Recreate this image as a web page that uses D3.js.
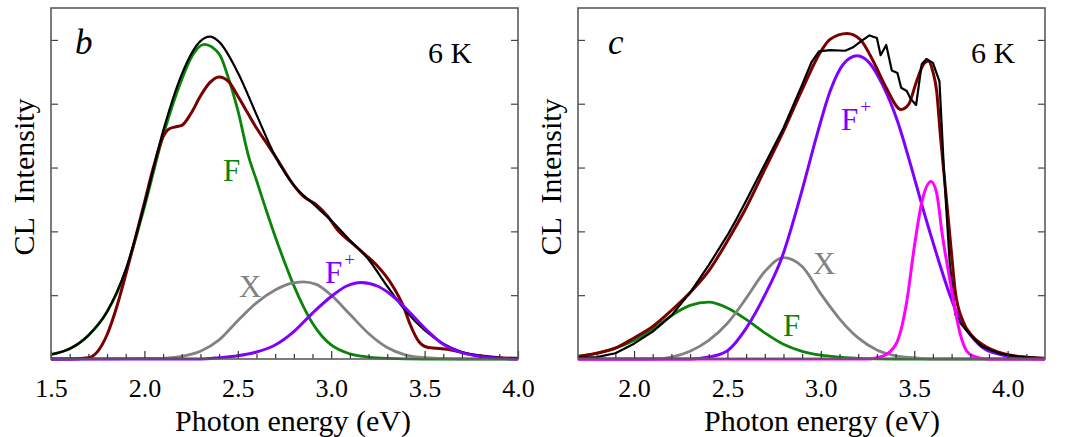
<!DOCTYPE html>
<html>
<head>
<meta charset="utf-8">
<script src="https://cdn.jsdelivr.net/npm/d3@7"></script>
<style>
  html, body { margin: 0; padding: 0; background: #fff; }
  svg { display: block; font-family: "Liberation Serif", "Times New Roman", serif; }
</style>
</head>
<body>
<svg id="chart" width="1075" height="437"></svg>
<script>
// ---- Panel b : spectrum at 6 K, [photon energy (eV), intensity] ----
const bFitSum = [[1.5,0.07],[1.6,0.16],[1.7,0.37],[1.8,0.74],[1.9,1.4],[2.0,2.42],[2.1,3.57],[2.2,4.46],[2.3,4.98],[2.35,5.05],[2.4,4.97],[2.5,4.49],[2.6,3.83],[2.7,3.18],[2.8,2.72],[2.9,2.44],[3.0,2.17],[3.1,1.86],[3.2,1.56],[3.3,1.14],[3.4,0.75],[3.5,0.45],[3.6,0.24],[3.7,0.11],[3.8,0.05],[3.9,0.02],[4.0,0.01]];
const bMeasured = [[1.5,0.0],[1.6,0.0],[1.7,0.02],[1.75,0.12],[1.8,0.38],[1.85,0.8],[1.9,1.32],[1.95,1.88],[2.0,2.45],[2.05,3.02],[2.1,3.48],[2.13,3.6],[2.17,3.64],[2.2,3.66],[2.25,3.85],[2.3,4.12],[2.35,4.33],[2.4,4.42],[2.45,4.35],[2.5,4.12],[2.55,3.87],[2.6,3.62],[2.65,3.4],[2.7,3.18],[2.8,2.72],[2.85,2.55],[2.92,2.42],[2.98,2.24],[3.04,2.0],[3.11,1.82],[3.18,1.64],[3.24,1.48],[3.33,1.14],[3.39,0.8],[3.42,0.56],[3.47,0.27],[3.52,0.18],[3.63,0.15],[3.75,0.07],[3.9,0.02],[4.0,0.01]];
const bBandF = [[1.5,0.07],[1.6,0.16],[1.7,0.37],[1.8,0.74],[1.9,1.38],[2.0,2.38],[2.1,3.5],[2.2,4.38],[2.25,4.72],[2.32,4.93],[2.4,4.78],[2.45,4.4],[2.5,3.9],[2.56,3.15],[2.6,2.8],[2.65,2.35],[2.7,1.92],[2.75,1.52],[2.8,1.15],[2.85,0.83],[2.9,0.56],[2.95,0.36],[3.0,0.22],[3.1,0.08],[3.2,0.03],[3.3,0.01],[3.5,0.0],[4.0,0.0]];
const bBandX = [[1.5,0.0],[2.1,0.01],[2.2,0.04],[2.3,0.12],[2.4,0.3],[2.5,0.6],[2.6,0.88],[2.7,1.08],[2.78,1.18],[2.85,1.21],[2.92,1.17],[3.0,1.0],[3.1,0.7],[3.2,0.4],[3.3,0.18],[3.4,0.06],[3.5,0.02],[3.7,0.0],[4.0,0.0]];
const bBandFplus = [[1.5,0.0],[2.3,0.0],[2.4,0.02],[2.5,0.05],[2.6,0.11],[2.7,0.22],[2.8,0.43],[2.9,0.72],[3.0,0.98],[3.08,1.14],[3.16,1.2],[3.25,1.14],[3.34,0.96],[3.43,0.7],[3.52,0.43],[3.6,0.23],[3.7,0.1],[3.8,0.04],[3.9,0.01],[4.0,0.0]];

// ---- Panel c : spectrum at 6 K ----
const cMeasured = [[1.7,0.02],[1.8,0.03],[1.9,0.09],[2.0,0.24],[2.1,0.43],[2.2,0.68],[2.3,1.04],[2.4,1.47],[2.5,1.94],[2.55,2.2],[2.6,2.48],[2.7,3.05],[2.8,3.62],[2.9,4.3],[2.95,4.65],[2.99,4.82],[3.05,4.84],[3.13,4.83],[3.17,4.88],[3.22,4.99],[3.26,5.07],[3.3,5.03],[3.32,4.76],[3.35,4.92],[3.38,4.52],[3.41,4.48],[3.43,4.25],[3.46,4.2],[3.48,4.08],[3.51,3.98],[3.54,4.62],[3.565,4.7],[3.6,4.64],[3.635,4.35],[3.66,2.9],[3.69,1.5],[3.72,0.7],[3.75,0.55],[3.8,0.38],[3.86,0.2],[3.95,0.09],[4.05,0.04],[4.2,0.01]];
const cFitSum = [[1.7,0.04],[1.8,0.09],[1.9,0.17],[2.0,0.33],[2.1,0.51],[2.2,0.76],[2.3,1.04],[2.4,1.38],[2.5,1.85],[2.6,2.37],[2.7,2.97],[2.8,3.57],[2.9,4.22],[3.0,4.82],[3.05,5.01],[3.14,5.1],[3.21,5.01],[3.28,4.67],[3.35,4.25],[3.43,3.91],[3.47,3.99],[3.51,4.33],[3.55,4.62],[3.575,4.67],[3.6,4.5],[3.62,4.2],[3.64,3.5],[3.67,2.58],[3.7,1.64],[3.72,1.05],[3.76,0.6],[3.81,0.36],[3.88,0.2],[3.97,0.09],[4.06,0.04],[4.2,0.01]];
const cBandF = [[1.7,0.04],[1.8,0.09],[1.9,0.17],[2.0,0.29],[2.1,0.46],[2.2,0.68],[2.3,0.84],[2.4,0.89],[2.5,0.8],[2.6,0.62],[2.7,0.41],[2.8,0.23],[2.9,0.12],[3.0,0.06],[3.1,0.03],[3.2,0.01],[3.4,0.0],[4.2,0.0]];
const cBandX = [[1.7,0.0],[2.1,0.0],[2.2,0.03],[2.3,0.12],[2.4,0.29],[2.5,0.56],[2.6,0.95],[2.7,1.37],[2.8,1.59],[2.9,1.45],[3.0,1.02],[3.1,0.63],[3.2,0.33],[3.3,0.14],[3.4,0.05],[3.5,0.02],[3.6,0.0],[4.2,0.0]];
const cBandFplus = [[1.7,0.0],[2.3,0.0],[2.4,0.03],[2.5,0.13],[2.6,0.48],[2.7,1.0],[2.79,1.58],[2.9,2.65],[2.98,3.52],[3.05,4.2],[3.12,4.62],[3.195,4.75],[3.26,4.64],[3.33,4.3],[3.41,3.73],[3.48,3.05],[3.55,2.32],[3.62,1.64],[3.69,1.01],[3.74,0.64],[3.8,0.38],[3.87,0.17],[3.96,0.07],[4.05,0.02],[4.2,0.0]];
const cBandUV = [[1.7,0.0],[3.25,0.0],[3.3,0.02],[3.35,0.07],[3.41,0.28],[3.46,0.9],[3.5,1.75],[3.54,2.45],[3.59,2.78],[3.62,2.6],[3.65,1.95],[3.69,1.25],[3.72,0.75],[3.75,0.35],[3.78,0.13],[3.82,0.04],[3.86,0.01],[3.9,0.0],[4.2,0.0]];

// ---- axis ticks ----
const bTickLabels = [1.5, 2.0, 2.5, 3.0, 3.5, 4.0];
const bMinorTicks = [1.6,1.7,1.8,1.9,2.1,2.2,2.3,2.4,2.6,2.7,2.8,2.9,3.1,3.2,3.3,3.4,3.6,3.7,3.8,3.9];
const cTickLabels = [2.0, 2.5, 3.0, 3.5, 4.0];
const cMinorTicks = [1.8,1.9,2.1,2.2,2.3,2.4,2.6,2.7,2.8,2.9,3.1,3.2,3.3,3.4,3.6,3.7,3.8,3.9,4.1];
const yTicks = [1, 2, 3, 4, 5];

const COL = {
  black: "#000000",
  red: "#7a0000",
  green: "#0a840a",
  gray: "#828282",
  violet: "#8000ff",
  magenta: "#ff00ff",
  frame: "#5a5a5a"
};

const svg = d3.select("#chart");
const plotTop = 8, plotBottom = 359;

function drawPanel(cfg) {
  const x = d3.scaleLinear().domain(cfg.domain).range([cfg.left, cfg.right]);
  const y = d3.scaleLinear().domain([0, 5.5]).range([plotBottom, plotTop]);
  const g = svg.append("g");

  // curves, clipped to the plot frame
  const clipId = "clip-" + cfg.letter;
  g.append("clipPath").attr("id", clipId).append("rect")
    .attr("x", cfg.left).attr("y", plotTop)
    .attr("width", cfg.right - cfg.left).attr("height", plotBottom - plotTop + 2);
  const plot = g.append("g").attr("clip-path", `url(#${clipId})`);
  cfg.series.forEach(s => {
    const line = d3.line().x(d => x(d[0])).y(d => y(d[1]))
      .curve(s.jagged ? d3.curveLinear : d3.curveMonotoneX);
    plot.append("path").datum(s.data)
      .attr("d", line)
      .attr("fill", "none")
      .attr("stroke", s.color)
      .attr("stroke-width", s.width)
      .attr("stroke-linejoin", "round")
      .attr("stroke-linecap", "round");
  });

  // inward ticks
  const axB = g.append("g").attr("transform", `translate(0,${plotBottom})`)
    .call(d3.axisBottom(x).tickValues(cfg.major).tickSizeInner(-8).tickSizeOuter(0)
      .tickPadding(20).tickFormat(d3.format(".1f")));
  axB.select(".domain").remove();
  axB.selectAll("line").attr("stroke", "#333").attr("stroke-width", 1.2);
  axB.selectAll("text").attr("font-size", 26).attr("fill", "#000")
    .attr("font-family", '"Liberation Serif","Times New Roman",serif');

  const axM = g.append("g").attr("transform", `translate(0,${plotBottom})`)
    .call(d3.axisBottom(x).tickValues(cfg.minor).tickSizeInner(-5).tickSizeOuter(0).tickFormat(""));
  axM.select(".domain").remove();
  axM.selectAll("line").attr("stroke", "#333").attr("stroke-width", 1.2);

  [[d3.axisLeft, cfg.left], [d3.axisRight, cfg.right]].forEach(([fn, px]) => {
    const a = g.append("g").attr("transform", `translate(${px},0)`)
      .call(fn(y).tickValues(yTicks).tickSizeInner(-7).tickSizeOuter(0).tickFormat(""));
    a.select(".domain").remove();
    a.selectAll("line").attr("stroke", "#444").attr("stroke-width", 1.2);
  });

  // frame
  g.append("rect").attr("x", cfg.left).attr("y", plotTop)
    .attr("width", cfg.right - cfg.left).attr("height", plotBottom - plotTop)
    .attr("fill", "none").attr("stroke", COL.frame).attr("stroke-width", 1.6);

  // axis titles
  g.append("text").attr("x", cfg.xTitleX).attr("y", 431).attr("text-anchor", "middle")
    .attr("font-size", 30).text("Photon energy (eV)");
  g.append("text").attr("transform", `translate(${cfg.left - 17},177) rotate(-90)`)
    .attr("text-anchor", "middle").attr("font-size", 30)
    .style("white-space", "pre").text("CL  Intensity");

  // panel letter and temperature
  g.append("text").attr("x", cfg.letterX).attr("y", 54).attr("font-size", 35)
    .attr("font-style", "italic").text(cfg.letter);
  g.append("text").attr("x", cfg.tempX).attr("y", 63).attr("font-size", 30).text("6 K");

  // band labels
  cfg.labels.forEach(l => {
    const t = g.append("text").attr("x", l.x).attr("y", l.y).attr("font-size", 31).attr("fill", l.color);
    t.append("tspan").text(l.text);
    if (l.sup) t.append("tspan").attr("font-size", 19).attr("dy", -17).attr("dx", 2).text(l.sup);
  });
}

drawPanel({
  letter: "b", letterX: 75, tempX: 428,
  domain: [1.5, 4.0], left: 51, right: 518, xTitleX: 293,
  major: bTickLabels, minor: bMinorTicks,
  series: [
    { data: bBandF, color: COL.green, width: 2.8 },
    { data: bBandX, color: COL.gray, width: 2.8 },
    { data: bMeasured, color: COL.red, width: 3 },
    { data: bFitSum, color: COL.black, width: 2.2 },
    { data: bBandFplus, color: COL.violet, width: 3 }
  ],
  labels: [
    { text: "F", x: 223, y: 181, color: COL.green },
    { text: "X", x: 239, y: 297, color: COL.gray },
    { text: "F", sup: "+", x: 325, y: 283, color: COL.violet }
  ]
});

drawPanel({
  letter: "c", letterX: 608, tempX: 971,
  domain: [1.7, 4.2], left: 578, right: 1045, xTitleX: 822,
  major: cTickLabels, minor: cMinorTicks,
  series: [
    { data: cBandF, color: COL.green, width: 2.8 },
    { data: cBandX, color: COL.gray, width: 2.8 },
    { data: cBandFplus, color: COL.violet, width: 3 },
    { data: cFitSum, color: COL.red, width: 3 },
    { data: cMeasured, color: COL.black, width: 2.2, jagged: true },
    { data: cBandUV, color: COL.magenta, width: 3 }
  ],
  labels: [
    { text: "F", x: 783, y: 336, color: COL.green },
    { text: "X", x: 813, y: 274, color: COL.gray },
    { text: "F", sup: "+", x: 841, y: 130, color: COL.violet }
  ]
});
</script>
</body>
</html>
